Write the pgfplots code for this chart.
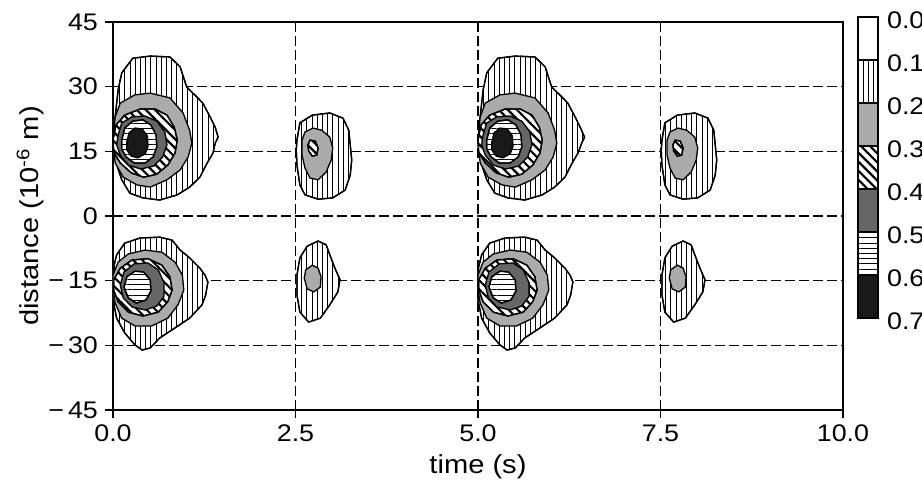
\documentclass[border=0pt]{standalone}
\usepackage{fontspec}
\setmainfont{Liberation Sans}[FakeStretch=1.12]
\usepackage{pgfplots}
\pgfplotsset{compat=1.18}
\usetikzlibrary{patterns.meta}

\tikzset{
  lvA/.style={draw=black, line width=0.65pt, fill=white, postaction={pattern={Lines[angle=90,distance=2.6pt,line width=0.45pt]}}},
  lvB/.style={draw=black, line width=0.65pt, fill=black!33},
  lvC/.style={draw=black, line width=0.65pt, fill=white, postaction={pattern={Lines[angle=-45,distance=3.2pt,line width=1.1pt]}}},
  lvD/.style={draw=black, line width=0.65pt, fill=black!60},
  lvE/.style={draw=black, line width=0.65pt, fill=white, postaction={pattern={Lines[angle=0,distance=2.6pt,line width=0.5pt]}}},
  lvF/.style={draw=black, line width=0.65pt, fill=black!90},
}

\begin{document}
\begin{tikzpicture}
\begin{axis}[
    name=main,
    width=365pt, height=194pt, scale only axis,
    xmin=0, xmax=10, ymin=-45, ymax=45,
    xtick={0,2.5,5,7.5,10},
    ytick={-45,-30,-15,0,15,30,45},
    yticklabels={−\,45,−\,30,−\,15,0,15,30,45},
    /pgf/number format/.cd, fixed, fixed zerofill, precision=1, assume math mode=true,
    /pgfplots/.cd,
    tick label style={font=\fontsize{12}{14}\selectfont},
    xlabel={time (s)},
    ylabel={distance (10\textsuperscript{-6} m)},
    every axis x label/.style={at={(axis description cs:0.5,-0.147)}, anchor=center, font=\fontsize{13}{15}\selectfont},
    every axis y label/.style={at={(axis description cs:-0.1137,0.5)}, anchor=center, rotate=90, font=\fontsize{13}{15}\selectfont},
    grid=major,
    grid style={black, line width=0.6pt, dash pattern=on 5pt off 2pt},
    axis line style={line width=0.8pt},
    tick style={black, line width=0.6pt},
    tick align=outside, tick pos=left, major tick length=4pt,
]
% ---- upper pulse, t ~ 0.4
\addplot[lvA] coordinates {(0,17.6)(0.03,23.0)(0.07,29.2)(0.12,33.2)(0.27,36.6)(0.51,37.1)(0.78,36.9)(0.92,34.6)(1.01,29.9)(1.15,27.6)(1.23,26.2)(1.33,23.0)(1.40,20.6)(1.44,18.3)(1.40,16.9)(1.37,14.6)(1.29,12.3)(1.19,9.0)(1.05,6.7)(0.88,4.9)(0.64,3.7)(0.41,4.2)(0.23,5.3)(0.12,8.4)(0.03,13.0)} --cycle;
\addplot[lvB] coordinates {(0,17.6)(0.03,23.0)(0.10,26.2)(0.30,28.1)(0.51,28.5)(0.78,27.4)(0.96,23.9)(1.05,19.9)(1.08,16.9)(1.03,13.7)(0.92,10.7)(0.74,8.4)(0.51,6.7)(0.33,7.2)(0.14,9.0)(0.03,12.3)} --cycle;
\addplot[lvC] coordinates {(0,17.6)(0.04,21.1)(0.16,23.4)(0.37,24.8)(0.58,24.8)(0.74,23.4)(0.84,20.6)(0.88,17.6)(0.85,14.6)(0.75,11.8)(0.60,9.7)(0.42,9.0)(0.25,10.0)(0.10,12.3)(0.01,14.8)} --cycle;
\addplot[lvD] coordinates {(0.07,18.8)(0.12,21.6)(0.26,23.0)(0.44,23.2)(0.60,22.0)(0.71,19.5)(0.74,16.5)(0.68,13.7)(0.56,11.6)(0.38,10.9)(0.21,11.8)(0.10,14.1)(0.05,16.5)} --cycle;
\addplot[lvE] coordinates {(0.12,17.6)(0.16,20.4)(0.27,22.0)(0.41,22.3)(0.52,21.1)(0.59,18.8)(0.60,16.0)(0.55,13.7)(0.44,12.3)(0.29,12.3)(0.18,13.7)(0.12,15.5)} --cycle;
\addplot[lvF] coordinates {(0.19,17.2)(0.22,19.3)(0.30,20.4)(0.40,20.2)(0.47,18.6)(0.48,16.2)(0.44,14.4)(0.34,13.5)(0.25,13.9)(0.19,15.3)} --cycle;
% ---- upper echo, t ~ 2.8
\addplot[lvA] coordinates {(2.52,17.6)(2.56,21.6)(2.73,23.4)(2.97,23.9)(3.15,22.7)(3.23,19.9)(3.25,16.5)(3.27,13.0)(3.25,9.5)(3.18,6.0)(3.01,4.2)(2.81,3.9)(2.63,4.9)(2.56,7.2)(2.52,11.8)(2.51,15.3)} --cycle;
\addplot[lvB] coordinates {(2.59,17.6)(2.63,19.5)(2.74,20.4)(2.86,19.9)(2.97,18.3)(3.01,15.8)(2.99,13.0)(2.92,10.2)(2.81,8.4)(2.70,8.8)(2.63,11.1)(2.59,14.1)} --cycle;
\addplot[lvC] coordinates {(2.67,16.5)(2.70,17.6)(2.77,17.4)(2.81,15.8)(2.79,14.1)(2.73,13.9)(2.68,15.1)} --cycle;
% ---- lower pulse, t ~ 0.4
\addplot[lvA] coordinates {(0,-12.5)(0.05,-9.0)(0.16,-6.3)(0.37,-5.1)(0.64,-4.9)(0.81,-5.6)(0.92,-7.9)(1.05,-9.7)(1.19,-12.1)(1.26,-13.7)(1.30,-15.3)(1.27,-18.3)(1.22,-20.6)(1.05,-23.7)(0.81,-26.4)(0.64,-28.3)(0.51,-30.6)(0.40,-31.1)(0.30,-29.9)(0.16,-27.1)(0.05,-23.7)(0,-19.5)} --cycle;
\addplot[lvB] coordinates {(0,-13.7)(0.07,-10.7)(0.21,-8.8)(0.44,-7.9)(0.67,-8.4)(0.85,-10.7)(0.95,-13.7)(0.97,-17.2)(0.89,-20.6)(0.75,-23.7)(0.53,-25.5)(0.30,-25.5)(0.12,-23.7)(0.03,-20.2)(0,-17.2)} --cycle;
\addplot[lvC] coordinates {(0.01,-14.8)(0.10,-12.1)(0.26,-10.2)(0.48,-9.9)(0.67,-11.4)(0.78,-14.1)(0.81,-17.2)(0.75,-19.9)(0.62,-22.3)(0.41,-23.2)(0.21,-22.3)(0.07,-19.9)(0.01,-17.2)} --cycle;
\addplot[lvD] coordinates {(0.10,-16.0)(0.15,-13.0)(0.29,-11.1)(0.48,-10.9)(0.62,-12.5)(0.70,-15.5)(0.70,-18.6)(0.60,-20.9)(0.44,-21.8)(0.26,-21.1)(0.14,-19.0)} --cycle;
\addplot[lvE] coordinates {(0.15,-16.5)(0.19,-14.1)(0.30,-12.8)(0.42,-13.0)(0.51,-14.8)(0.52,-17.4)(0.45,-19.5)(0.32,-20.2)(0.21,-19.0)} --cycle;
% ---- lower echo, t ~ 2.8
\addplot[lvA] coordinates {(2.52,-13.7)(2.56,-9.7)(2.66,-7.0)(2.81,-5.8)(2.92,-6.7)(2.97,-9.0)(3.04,-12.1)(3.11,-14.8)(3.08,-17.6)(2.97,-20.6)(2.84,-23.7)(2.68,-24.6)(2.56,-22.3)(2.52,-18.3)} --cycle;
\addplot[lvB] coordinates {(2.62,-14.4)(2.64,-12.5)(2.73,-11.4)(2.81,-12.1)(2.85,-14.1)(2.84,-16.5)(2.75,-17.6)(2.66,-16.9)} --cycle;
% ---- second stimulus, upper pulse, t ~ 5.4
\addplot[lvA] coordinates {(5,17.6)(5.03,23.0)(5.07,29.2)(5.12,33.2)(5.27,36.6)(5.51,37.1)(5.78,36.9)(5.92,34.6)(6.01,29.9)(6.15,27.6)(6.23,26.2)(6.33,23.0)(6.40,20.6)(6.46,18.3)(6.42,16.9)(6.37,14.6)(6.29,12.3)(6.19,9.0)(6.05,6.7)(5.88,4.9)(5.64,3.7)(5.41,4.2)(5.23,5.3)(5.12,8.4)(5.03,13.0)} --cycle;
\addplot[lvB] coordinates {(5,17.6)(5.03,23.0)(5.10,26.2)(5.30,28.1)(5.51,28.5)(5.78,27.4)(5.96,23.9)(6.05,19.9)(6.08,16.9)(6.03,13.7)(5.92,10.7)(5.74,8.4)(5.51,6.7)(5.33,7.2)(5.14,9.0)(5.03,12.3)} --cycle;
\addplot[lvC] coordinates {(5,17.6)(5.04,21.1)(5.16,23.4)(5.37,24.8)(5.58,24.8)(5.74,23.4)(5.84,20.6)(5.88,17.6)(5.85,14.6)(5.75,11.8)(5.60,9.7)(5.42,9.0)(5.25,10.0)(5.10,12.3)(5.01,14.8)} --cycle;
\addplot[lvD] coordinates {(5.07,18.8)(5.12,21.6)(5.26,23.0)(5.44,23.2)(5.60,22.0)(5.71,19.5)(5.74,16.5)(5.68,13.7)(5.56,11.6)(5.38,10.9)(5.21,11.8)(5.10,14.1)(5.05,16.5)} --cycle;
\addplot[lvE] coordinates {(5.12,17.6)(5.16,20.4)(5.27,22.0)(5.41,22.3)(5.52,21.1)(5.59,18.8)(5.60,16.0)(5.55,13.7)(5.44,12.3)(5.29,12.3)(5.18,13.7)(5.12,15.5)} --cycle;
\addplot[lvF] coordinates {(5.19,17.2)(5.22,19.3)(5.30,20.4)(5.40,20.2)(5.47,18.6)(5.48,16.2)(5.44,14.4)(5.34,13.5)(5.25,13.9)(5.19,15.3)} --cycle;
% ---- second stimulus, upper echo, t ~ 7.8
\addplot[lvA] coordinates {(7.52,17.6)(7.56,21.6)(7.73,23.4)(7.97,23.9)(8.15,22.7)(8.23,19.9)(8.25,16.5)(8.27,13.0)(8.25,9.5)(8.18,6.0)(8.01,4.2)(7.81,3.9)(7.63,4.9)(7.56,7.2)(7.52,11.8)(7.51,15.3)} --cycle;
\addplot[lvB] coordinates {(7.59,17.6)(7.63,19.5)(7.74,20.4)(7.86,19.9)(7.97,18.3)(8.01,15.8)(7.99,13.0)(7.92,10.2)(7.81,8.4)(7.70,8.8)(7.63,11.1)(7.59,14.1)} --cycle;
\addplot[lvC] coordinates {(7.67,16.5)(7.70,17.6)(7.77,17.4)(7.81,15.8)(7.79,14.1)(7.73,13.9)(7.68,15.1)} --cycle;
% ---- second stimulus, lower pulse, t ~ 5.4
\addplot[lvA] coordinates {(5,-12.5)(5.05,-9.0)(5.16,-6.3)(5.37,-5.1)(5.64,-4.9)(5.81,-5.6)(5.92,-7.9)(6.05,-9.7)(6.19,-12.1)(6.26,-13.7)(6.30,-15.3)(6.27,-18.3)(6.22,-20.6)(6.05,-23.7)(5.81,-26.4)(5.64,-28.3)(5.51,-30.6)(5.40,-31.1)(5.30,-29.9)(5.16,-27.1)(5.05,-23.7)(5,-19.5)} --cycle;
\addplot[lvB] coordinates {(5,-13.7)(5.07,-10.7)(5.21,-8.8)(5.44,-7.9)(5.67,-8.4)(5.85,-10.7)(5.95,-13.7)(5.97,-17.2)(5.89,-20.6)(5.75,-23.7)(5.53,-25.5)(5.30,-25.5)(5.12,-23.7)(5.03,-20.2)(5,-17.2)} --cycle;
\addplot[lvC] coordinates {(5.01,-14.8)(5.10,-12.1)(5.26,-10.2)(5.48,-9.9)(5.67,-11.4)(5.78,-14.1)(5.81,-17.2)(5.75,-19.9)(5.62,-22.3)(5.41,-23.2)(5.21,-22.3)(5.07,-19.9)(5.01,-17.2)} --cycle;
\addplot[lvD] coordinates {(5.10,-16.0)(5.15,-13.0)(5.29,-11.1)(5.48,-10.9)(5.62,-12.5)(5.70,-15.5)(5.70,-18.6)(5.60,-20.9)(5.44,-21.8)(5.26,-21.1)(5.14,-19.0)} --cycle;
\addplot[lvE] coordinates {(5.15,-16.5)(5.19,-14.1)(5.30,-12.8)(5.42,-13.0)(5.51,-14.8)(5.52,-17.4)(5.45,-19.5)(5.32,-20.2)(5.21,-19.0)} --cycle;
% ---- second stimulus, lower echo, t ~ 7.8
\addplot[lvA] coordinates {(7.52,-13.7)(7.56,-9.7)(7.66,-7.0)(7.81,-5.8)(7.92,-6.7)(7.97,-9.0)(8.04,-12.1)(8.11,-14.8)(8.08,-17.6)(7.97,-20.6)(7.84,-23.7)(7.68,-24.6)(7.56,-22.3)(7.52,-18.3)} --cycle;
\addplot[lvB] coordinates {(7.62,-14.4)(7.64,-12.5)(7.73,-11.4)(7.81,-12.1)(7.85,-14.1)(7.84,-16.5)(7.75,-17.6)(7.66,-16.9)} --cycle;
\end{axis}

% colour key
\begin{axis}[
    at={(main.south east)}, anchor=south west, xshift=7.5pt, yshift=46pt,
    width=10pt, height=150.5pt, scale only axis,
    xmin=0, xmax=1, ymin=0, ymax=0.7, y dir=reverse,
    xtick=\empty,
    ytick={0,0.1,0.2,0.3,0.4,0.5,0.6,0.7},
    yticklabels={0.0,0.1,0.2,0.3,0.4,0.5,0.6,0.7},
    yticklabel pos=right,
    major tick length=0pt,
    tick label style={font=\fontsize{12}{14}\selectfont, xshift=1pt, yshift=-1.5pt},
    axis line style={line width=0.6pt},
]
\addplot[draw=black, line width=0.6pt, fill=white] coordinates {(0,0)(1,0)(1,0.1)(0,0.1)} --cycle;
\addplot[lvA] coordinates {(0,0.1)(1,0.1)(1,0.2)(0,0.2)} --cycle;
\addplot[lvB] coordinates {(0,0.2)(1,0.2)(1,0.3)(0,0.3)} --cycle;
\addplot[lvC] coordinates {(0,0.3)(1,0.3)(1,0.4)(0,0.4)} --cycle;
\addplot[lvD] coordinates {(0,0.4)(1,0.4)(1,0.5)(0,0.5)} --cycle;
\addplot[lvE] coordinates {(0,0.5)(1,0.5)(1,0.6)(0,0.6)} --cycle;
\addplot[lvF] coordinates {(0,0.6)(1,0.6)(1,0.7)(0,0.7)} --cycle;
\end{axis}
\pgfresetboundingbox
\path (main.south west) ++(-56.5pt,-44pt) rectangle ++(461pt,249pt);
\end{tikzpicture}
\end{document}
